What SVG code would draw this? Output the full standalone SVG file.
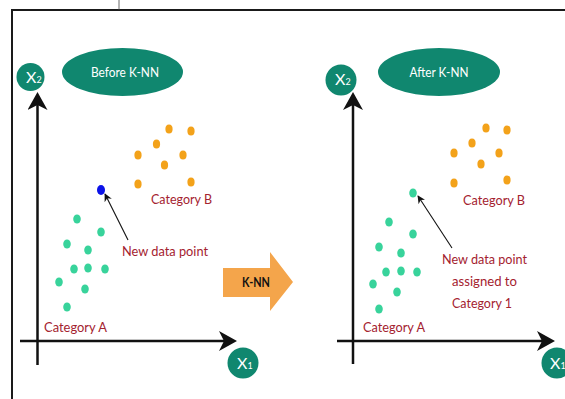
<svg xmlns="http://www.w3.org/2000/svg" width="565" height="399" viewBox="0 0 565 399">
<defs>
<style>
.frame{fill:none;stroke:#1a1a1a;stroke-width:2}
.axis{stroke:#111;stroke-width:2.5;fill:none}
.ptr{stroke:#111;stroke-width:1.1;fill:none}
.badge{fill:#10876f}
.lbl{font-family:Lato,"Liberation Sans",sans-serif;font-size:14px;fill:#a4222f}
.wt{font-family:Lato,"Liberation Sans",sans-serif;fill:#ffffff}
.ga{fill:#38d39b}
.ob{fill:#f3a21a}
</style>
<marker id="axh" viewBox="0 0 18 20" markerWidth="18" markerHeight="20" markerUnits="userSpaceOnUse" refX="10" refY="10" orient="auto">
<path d="M0,0 L18,10 L0,20 L5,10 z" fill="#111"/>
</marker>
<marker id="ptrh" viewBox="0 0 10 10" markerWidth="9" markerHeight="8" markerUnits="userSpaceOnUse" refX="9" refY="5" orient="auto">
<path d="M0,0 L10,5 L0,10 L3,5 z" fill="#111"/>
</marker>
</defs>
<rect width="565" height="399" fill="#ffffff"/>
<g id="frame">
<path class="frame" d="M12,399 L12,10 L565,10"/>
<line x1="119" y1="0" x2="119" y2="10" stroke="#444" stroke-width="0.8"/>
</g>

<g id="connectors">
<line class="axis" x1="37.5" y1="365" x2="37.5" y2="100" marker-end="url(#axh)"/>
<line class="axis" x1="20" y1="341" x2="229" y2="341" marker-end="url(#axh)"/>
<line class="axis" x1="353" y1="364" x2="353" y2="100" marker-end="url(#axh)"/>
<line class="axis" x1="337" y1="341" x2="547" y2="341" marker-end="url(#axh)"/>
<line class="ptr" x1="128" y1="240" x2="105" y2="194" marker-end="url(#ptrh)"/>
<line class="ptr" x1="452" y1="248" x2="418" y2="196" marker-end="url(#ptrh)"/>
</g>

<g id="left-x2">
<circle class="badge" cx="30.5" cy="77" r="14"/>
<text class="wt" x="26" y="83" font-size="16">X<tspan font-size="9">2</tspan></text>
</g>
<g id="left-x1">
<circle class="badge" cx="243" cy="363" r="15.5"/>
<text class="wt" x="237" y="368.5" font-size="16">X<tspan font-size="9">1</tspan></text>
</g>
<g id="before-knn">
<ellipse class="badge" cx="122.5" cy="72" rx="60.5" ry="24"/>
<text class="wt" x="125" y="77" font-size="14" text-anchor="middle" textLength="68" lengthAdjust="spacingAndGlyphs">Before K-NN</text>
</g>

<g id="left-category-b">
<ellipse class="ob" cx="169" cy="129" rx="3.6" ry="4.5"/>
<ellipse class="ob" cx="191" cy="131" rx="3.6" ry="4.5"/>
<ellipse class="ob" cx="156.5" cy="144" rx="3.6" ry="4.5"/>
<ellipse class="ob" cx="138" cy="155" rx="3.6" ry="4.5"/>
<ellipse class="ob" cx="183" cy="155" rx="3.6" ry="4.5"/>
<ellipse class="ob" cx="164.5" cy="165" rx="3.6" ry="4.5"/>
<ellipse class="ob" cx="138" cy="184" rx="3.6" ry="4.5"/>
<ellipse class="ob" cx="191" cy="182" rx="3.6" ry="4.5"/>
<text class="lbl" x="151" y="204" textLength="61" lengthAdjust="spacingAndGlyphs">Category B</text>
</g>

<g id="left-new-point">
<ellipse cx="101" cy="190" rx="4" ry="5" fill="#0b12e8"/>
<text class="lbl" x="122" y="256" textLength="86" lengthAdjust="spacingAndGlyphs">New data point</text>
</g>

<g id="left-category-a">
<ellipse class="ga" cx="77" cy="219" rx="3.8" ry="4.6"/>
<ellipse class="ga" cx="101" cy="232" rx="3.8" ry="4.6"/>
<ellipse class="ga" cx="67" cy="244" rx="3.8" ry="4.6"/>
<ellipse class="ga" cx="88" cy="250" rx="3.8" ry="4.6"/>
<ellipse class="ga" cx="74" cy="269" rx="3.8" ry="4.6"/>
<ellipse class="ga" cx="88" cy="268" rx="3.8" ry="4.6"/>
<ellipse class="ga" cx="105" cy="269" rx="3.8" ry="4.6"/>
<ellipse class="ga" cx="59" cy="282" rx="3.8" ry="4.6"/>
<ellipse class="ga" cx="85" cy="289" rx="3.8" ry="4.6"/>
<ellipse class="ga" cx="67" cy="307" rx="3.8" ry="4.6"/>
<text class="lbl" x="44" y="332" textLength="63" lengthAdjust="spacingAndGlyphs">Category A</text>
</g>

<g id="knn-arrow">
<path d="M223,268 L270,268 L270,252 L293,282 L270,311 L270,297 L223,297 z" fill="#f4a54b"/>
<text x="256" y="287" font-family="Lato,'Liberation Sans',sans-serif" font-size="14" font-weight="bold" fill="#111" text-anchor="middle" textLength="28" lengthAdjust="spacingAndGlyphs">K-NN</text>
</g>

<g id="right-x2">
<circle class="badge" cx="341" cy="80" r="15.5"/>
<text class="wt" x="335" y="85" font-size="16">X<tspan font-size="9">2</tspan></text>
</g>
<g id="right-x1">
<circle class="badge" cx="557" cy="363" r="15.5"/>
<text class="wt" x="550" y="369" font-size="16">X<tspan font-size="9">1</tspan></text>
</g>
<g id="after-knn">
<ellipse class="badge" cx="439" cy="72" rx="61" ry="24"/>
<text class="wt" x="439" y="77" font-size="14" text-anchor="middle" textLength="59" lengthAdjust="spacingAndGlyphs">After K-NN</text>
</g>

<g id="right-category-b">
<ellipse class="ob" cx="486" cy="128" rx="3.6" ry="4.5"/>
<ellipse class="ob" cx="507" cy="130" rx="3.6" ry="4.5"/>
<ellipse class="ob" cx="472" cy="143" rx="3.6" ry="4.5"/>
<ellipse class="ob" cx="454" cy="153" rx="3.6" ry="4.5"/>
<ellipse class="ob" cx="499" cy="153" rx="3.6" ry="4.5"/>
<ellipse class="ob" cx="481" cy="164" rx="3.6" ry="4.5"/>
<ellipse class="ob" cx="454" cy="183" rx="3.6" ry="4.5"/>
<ellipse class="ob" cx="507" cy="180" rx="3.6" ry="4.5"/>
<text class="lbl" x="463" y="205" textLength="62" lengthAdjust="spacingAndGlyphs">Category B</text>
</g>

<g id="right-new-point">
<text class="lbl" x="442" y="264" textLength="85" lengthAdjust="spacingAndGlyphs">New data point</text>
<text class="lbl" x="452" y="286" textLength="65" lengthAdjust="spacingAndGlyphs">assigned to</text>
<text class="lbl" x="452" y="308" textLength="60" lengthAdjust="spacingAndGlyphs">Category 1</text>
</g>

<g id="right-category-a">
<ellipse class="ga" cx="413" cy="193" rx="3.8" ry="4.6"/>
<ellipse class="ga" cx="389" cy="222" rx="3.8" ry="4.6"/>
<ellipse class="ga" cx="413" cy="234" rx="3.8" ry="4.6"/>
<ellipse class="ga" cx="379" cy="247" rx="3.8" ry="4.6"/>
<ellipse class="ga" cx="401" cy="253" rx="3.8" ry="4.6"/>
<ellipse class="ga" cx="386" cy="272" rx="3.8" ry="4.6"/>
<ellipse class="ga" cx="401" cy="271" rx="3.8" ry="4.6"/>
<ellipse class="ga" cx="417" cy="272" rx="3.8" ry="4.6"/>
<ellipse class="ga" cx="373" cy="284" rx="3.8" ry="4.6"/>
<ellipse class="ga" cx="397" cy="292" rx="3.8" ry="4.6"/>
<ellipse class="ga" cx="379" cy="309" rx="3.8" ry="4.6"/>
<text class="lbl" x="363" y="332" textLength="62" lengthAdjust="spacingAndGlyphs">Category A</text>
</g>
</svg>
